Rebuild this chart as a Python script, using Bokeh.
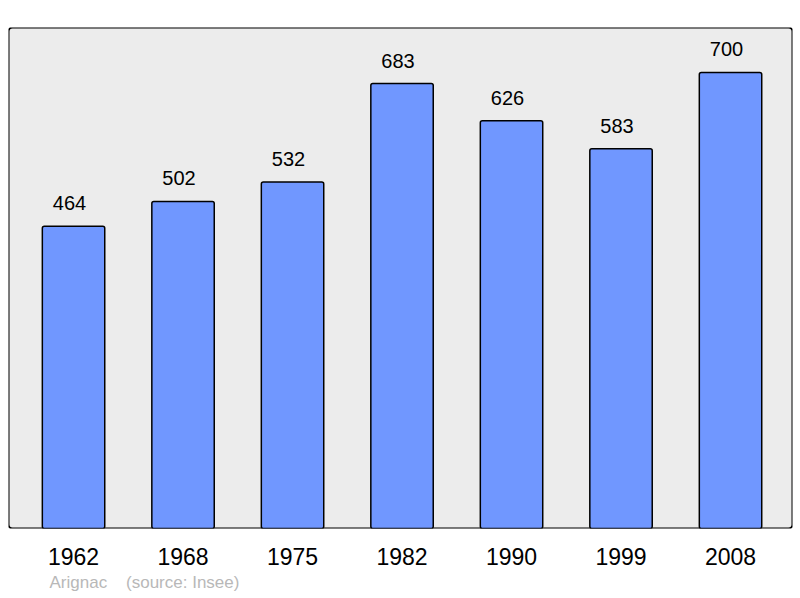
from bokeh.plotting import figure
from bokeh.models import Range1d, FixedTicker, BoxAnnotation, Title, ColumnDataSource
from bokeh.core.properties import value
from bokeh.embed import file_html
from bokeh.resources import INLINE

years = ["1962", "1968", "1975", "1982", "1990", "1999", "2008"]
population = [464, 502, 532, 683, 626, 583, 700]
footer = "Arignac\u00a0\u00a0\u00a0\u00a0(source: Insee)"

FONT = "Liberation Sans"
idx = list(range(len(years)))
src = ColumnDataSource(dict(x=idx, top=population, label=[str(v) for v in population]))

p = figure(width=793, height=596, output_backend="svg", toolbar_location=None,
           x_range=Range1d(-0.594, len(years) - 1 + 0.566), y_range=Range1d(0, 769),
           min_border_left=8, min_border_right=1, min_border_top=27, min_border_bottom=68)
p.background_fill_color = "white"
p.border_fill_color = "white"
p.outline_line_color = None
p.xgrid.visible = False
p.ygrid.visible = False
p.yaxis.visible = False

frame = BoxAnnotation(fill_color="#ececec", fill_alpha=1, line_color="black", line_alpha=1,
                      line_width=2, border_radius=4, level="underlay")
p.add_layout(frame)

p.vbar(x="x", top="top", width=0.57, source=src, fill_color="#7097ff",
       line_color="black", line_width=1.5, border_radius=2)
p.text(x="x", y="top", text="label", source=src, text_align="center",
       text_baseline="alphabetic", x_offset=-4, y_offset=-23, text_font=value(FONT),
       text_font_size="20px", text_color="black")

ax = p.xaxis[0]
ax.ticker = FixedTicker(ticks=idx)
ax.major_label_overrides = {i: y for i, y in zip(idx, years)}
ax.axis_line_color = None
ax.major_tick_line_color = None
ax.minor_tick_line_color = None
ax.major_tick_out = 0
ax.major_tick_in = 0
ax.major_label_standoff = 19
ax.major_label_text_font = FONT
ax.major_label_text_font_size = "23px"
ax.major_label_text_color = "black"

p.add_layout(Title(text=footer, align="left", offset=41, standoff=7,
                   text_font=FONT, text_font_size="17px", text_font_style="normal",
                   text_color="#b8b8b8"), "below")

open("out.html", "w").write(file_html(p, INLINE))
